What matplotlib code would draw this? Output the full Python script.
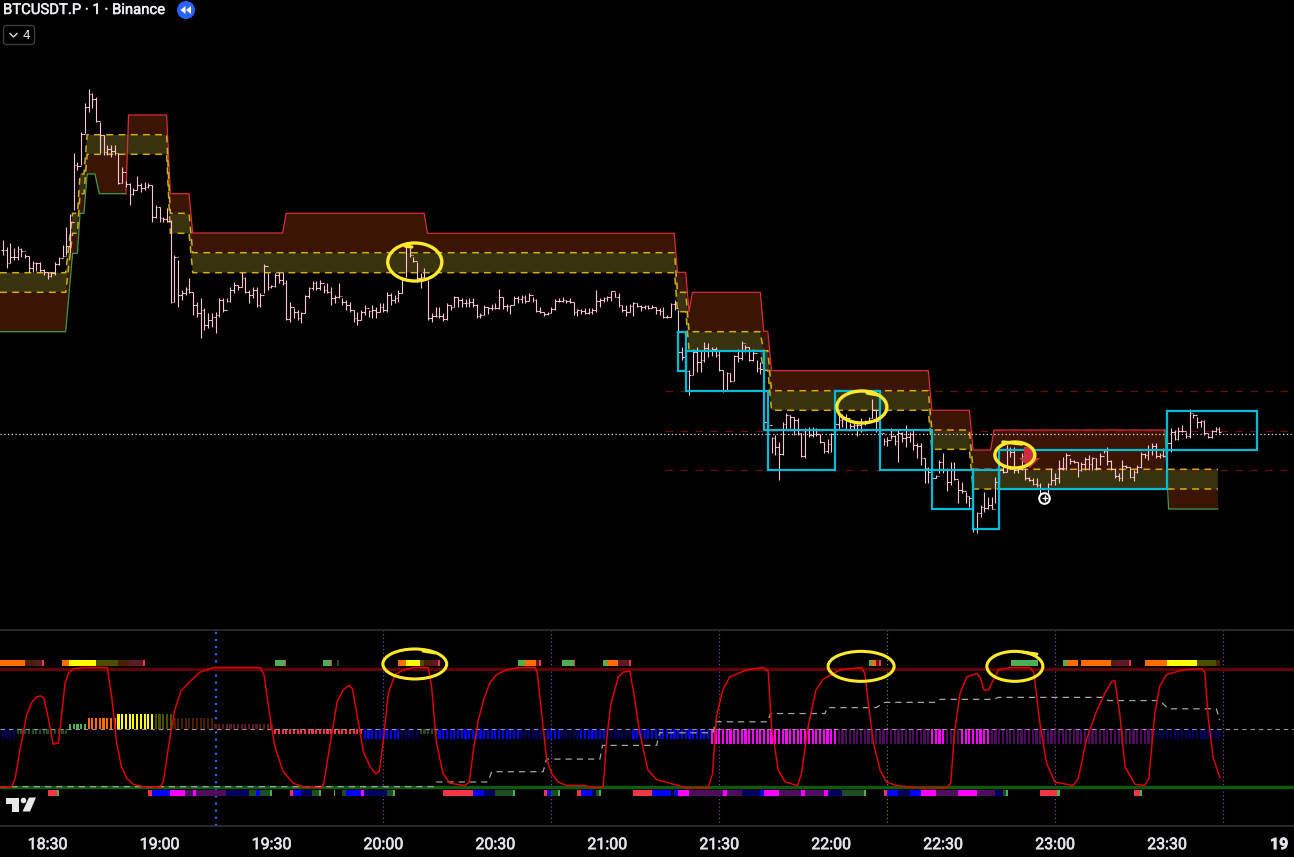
import numpy as np
import matplotlib
matplotlib.use("Agg")
import matplotlib.pyplot as plt
import matplotlib.patheffects as pe
from matplotlib.patches import Ellipse, Circle, FancyBboxPatch, Polygon

# ---- price bars: one per minute, from -12 minutes (relative to 18:30) ----
bar_high = [
 240,247,243,248,246,248,254,256,261,262, 262,269,272,272,262,257,245,227,214,153,
 162,132,103,89,93,97,122,135,145,145, 145,153,167,181,183,188,176,183,182,183,
 185,205,207,217,208,220,255,260,290,287, 278,292,302,298,308,313,313,312,298,298,
 298,287,282,285,272,277,290,287,287,293, 264,273,285,273,272,272,280,302,308,310,
 312,295,287,281,281,280,285,283,287,295, 283,298,300,302,310,312,310,305,310,305,
 307,303,303,292,293,295,290,277,245,248, 257,262,273,268,280,
 313,307,307,313,303,305,296,297,298,299, 298,298,304,313,305,307,304,303,289,297,
 304,305,296,296,295,295,293,297,299,307, 312,312,307,299,298,297,300,298,302,309,
 309,308,308,308,290,298,297,296,291,292, 293,305,305,304,302,303,305,305,305,305,
 307,308,307,315,303,300,310,
 347,358,370,349,347,350,342,343,347,347, 350,370,372,373,355,349,341,345,347,349,
 360,362,352,420,437,435,442,422,413,415, 417,418,433,428,427,427,428,434,442,439,
 433,415,414,414,414,423,423,423,418,420, 417,399,410,420,438,437,428,435,430,432,
 425,432,429,443,443,458,467,467,475,460, 453,468,462,462,480,482,492,496,
 500,512,505,492,497,497,477,465,465,445, 447,447,467,453,468,477,478,478,483,492,
 483,468,473,460,457,453,458,460,462,462, 457,455,457,458,453,449,447,460,468,473,
 460,465,467,470,465,452,453,445,443,443, 453,448,440,428,430,427,425,432,409,414,
 417,420,420,435,430,427,427]
bar_low = [
 255,268,263,260,260,257,258,272,272,271, 272,275,279,277,275,265,257,255,253,210,
 170,165,133,112,108,122,153,155,155,157, 155,184,183,187,205,195,190,192,190,188,
 222,218,222,222,222,303,302,307,300,295, 293,315,317,338,330,328,327,333,317,312,
 302,302,293,290,287,293,303,298,307,307, 293,290,288,287,283,285,320,322,318,320,
 323,313,298,290,290,290,293,293,305,303, 298,305,310,312,322,325,320,315,317,318,
 318,312,312,312,305,303,302,293,277,257, 262,282,288,280,320,
 322,317,318,321,320,310,307,307,307,307, 307,307,318,318,315,314,310,309,309,309,
 311,314,305,303,303,303,301,302,312,313, 316,315,313,310,302,302,303,303,315,316,
 314,314,314,314,312,307,302,301,301,297, 307,312,316,312,316,307,311,309,309,308,
 314,315,318,318,317,310,363,
 360,373,395,375,372,372,362,357,356,357, 371,392,390,382,381,362,360,352,361,361,
 372,374,428,446,453,455,480,455,430,428, 435,435,457,458,437,437,436,443,453,453,
 452,430,430,427,430,429,429,436,432,425, 422,418,432,455,445,446,439,445,462,442,
 447,442,450,458,465,483,483,491,478,473, 473,491,485,480,503,493,503,507,
 532,533,517,512,509,509,503,483,473,472, 457,473,473,470,480,481,485,487,495,497,
 497,485,485,483,470,470,464,463,477,471, 470,470,470,470,465,453,465,470,478,481,
 481,468,478,481,473,468,458,460,455,458, 458,457,457,452,440,440,432,438,438,418,
 428,427,435,438,438,432,433]
bar_close = [
 250,263,257,257,249,251,256,268,263,263, 270,272,276,273,264,258,256,246,222,165,
 166,134,107,94,99,121,135,152,149,151, 153,183,172,184,194,190,185,188,187,185,
 217,207,218,219,221,302,257,295,293,289, 292,305,313,310,325,320,317,315,300,310,
 301,290,285,287,278,292,295,290,305,295, 266,287,286,275,280,283,319,307,312,318,
 313,296,288,283,288,283,290,292,298,297, 296,302,305,310,318,320,312,308,311,310,
 312,307,310,295,300,298,293,278,247,255, 261,278,277,278,318,
 316,316,316,319,305,307,297,300,303,303, 302,305,316,315,307,308,308,308,297,306,
 306,305,298,299,297,301,295,300,311,312, 314,313,309,301,301,300,301,302,312,310,
 311,313,312,310,301,300,298,297,291,297, 305,310,312,306,303,306,307,306,308,307,
 310,311,317,317,304,308,352,
 357,371,375,352,362,360,348,350,349,355, 370,390,373,381,356,358,343,347,360,353,
 368,369,422,425,438,447,454,424,415,417, 420,433,456,430,435,429,434,442,451,444,
 434,424,420,417,418,426,425,425,423,421, 418,410,421,433,441,440,436,441,433,438,
 437,434,445,446,458,468,472,478,476,462, 470,482,470,479,490,491,496,498,
 529,513,507,508,505,509,482,470,472,450, 452,470,469,456,478,480,484,485,494,495,
 484,480,478,468,468,455,461,462,470,464, 459,464,458,468,456,451,461,469,476,478,
 466,467,477,472,467,454,455,450,446,456, 455,456,443,432,439,431,431,436,413,415,
 422,421,433,437,431,429,432]
first_bar_minute = -12

# ---- stepped bands on the price pane ----
band_m = [-12.75,4.85,6.7,8,8.7,9.75,10.6,21,21.7,31.9,32.9,37.9,38.9,168,168.8,171,171.9,190.9,191.9,193,194,236,236.96,247,248,299.4,300.4,313.6]
band_up = [272.7,272.7,213.3,213.3,174,174,134.7,134.7,134.7,134.7,213.3,213.3,252.7,252.7,292.3,292.3,331.7,331.7,350.7,350.7,390.7,390.7,430,430,469.3,469.3,469.3,469.3]
band_dn = [292.3,292.3,233.3,233.3,193.7,193.7,154.3,154.3,154.3,154.3,233.3,233.3,272.7,272.7,311.7,311.7,350.7,350.7,370.3,370.3,410.3,410.3,449.3,449.3,489,489,489,489]
green_m = [-12.75,4.85,6.7,8,8.7,9.75,10.6,12.7,13.85,21]
green_lv = [331.7,331.7,253.3,253.3,213.3,213.3,174,174,193.7,193.7]
red_m = [21,21.7,31.9,32.9,37.9,38.9,63,63.9,100.9,101.8,167.9,168.8,171,171.9,172.8,191,191.9,193,194,236,236.96,247,248,252.7,253.6,299.4]
red_lv = [193.7,115,115,193.7,193.7,233,233,213.3,213.3,233.3,233.3,272.3,272.3,311.7,292.3,292.3,331.3,331.3,370.7,370.7,410.3,410.3,450,450,430,430]
green2_m = [299.4,300.4,313.6]
green2_lv = [430,509,509]

# ---- cyan boxes ----
box_m0 = [168.9,171.1,191.9,193,211,223,237,248,255,300]
box_m1 = [171.1,191.9,193,211,223,237,248,255,300,324]
box_top = [331.7,350.7,390.7,430,390.7,430,470,470,450,410.7]
box_bot = [370.7,390.7,430,470,430,470,509,529,489,450]

# ---- horizontal levels ----
dash_levels = [391.3,430.5,470.3]
dash_start_m = 165.5
last_price = 434.3

# ---- oscillator ----
osc_m = [-12.75,-9.6,-8.7,-7.4,-5.6,-4.3,-3,-1.9,-1,0.2,1.5,2.9,3.8,4.7,5.6,6.9,9.6,16,17.2,18.5,19.8,21.2,23,25.6,30.1,31,32.8,34.1,35.7,38.1,40.8,44.4,56.9,58,59.6,60.9,63.1,65.8,68.5,73.4,74,75.6,77.6,79.2,80.8,81.7,83.2,84.6,86.4,88,88.9,90,91.3,93.1,95.3,98,102,102.9,104.2,
 106,107.8,109.6,111.8,113,114.1,115.4,116.8,118.5,120.3,123,126.6,130.6,131.2,132.4,133.7,135.1,136.8,139.1,143.5,147.1,148.9,149.8,150.9,152.9,154.2,156,157.1,158.7,160.9,163.2,166.7,171.2,177,178.2,179.2,180.9,182.8,187.3,191.7,193.1,194,195.8,197.6,201,202,203.8,205.9,207.8,212.3,218.1,
 219,219.9,221.3,223.1,224.8,227.5,232.9,240.9,242,243.1,244.5,246.3,249,250,250.9,252.1,254.8,257.9,263.2,264.3,265.9,267.7,269.9,274.8,276.2,278.4,281.1,283.3,285.1,286,287.3,288.7,291.4,294,295.1,296.7,298,299.8,304.3,309.2,310.1,311,312.3,314.1]
osc_v = [0,0,7,31,61,71,76,77,75,58,36,37,62,88,96,100,101,101,76,37,17,7,2,0,-0.5,4,42,65,81,89,97,101,101,95,59,34,13,3,0,-1,3,34,72,82,86,83,56,30,17,11,13,40,79,95,99,101,101,85,37,
 11,3,2,1,4,31,56,73,88,95,99,101,101,97,62,24,11,4,1,1,-1,0,40,69,93,97,98,79,45,14,6,3,-1,-1,11,59,82,93,99,101,98,51,14,4,1,11,51,82,91,99,101,
 96,71,37,14,4,1,-1,-1,3,48,79,93,96,92,82,82,99,101,101,97,54,20,4,1,7,40,64,79,89,90,62,17,2,1,7,62,85,95,99,100,97,59,25,8]

step_m = [-12.75,103.4,104.2,118,119,132.8,133.7,148,148.7,163.2,164,178.3,179,193,193.7,208.3,208.9,222,224.4,237.8,239,253.4,254.8,282.9,284.2,298,300.3,313.2,314.1]
step_v = [0,0,4,4,12.7,12.7,23.4,23.4,35,35,45.7,45.7,55,55,62,62,67,67,71.5,71.5,74,74,75.7,75.7,73,73,66,66,56.5]

mid_level = 49
osc_hi = 100
osc_lo = 0

# ---- histogram runs (inclusive minutes) ----
orange, yellow, olive, dorange, dred, red = '#ff6d00', '#ffff00', '#4d4d00', '#4a1f00', '#5c1a24', '#f23645'
green, dgreen, blue, navy, magenta, dmag = '#4caf50', '#1e4d24', '#0000ff', '#00005e', '#ff00ff', '#4d0d5c'
hist_a = [-12,-8,6,11,19,29,34,45,61,85,95,100,105,127,134,138,143,150,157,178,212,237,241,245,253,297]
hist_b = [-9,5,10,18,28,33,44,60,84,94,99,104,126,133,137,142,149,156,177,211,236,240,244,252,296,314]
hist_v = [-8.5,-4.5,4.5,9,13,13,9,4.5,-4.5,-8.5,-8.5,-4.5,-8.5,-8.5,-8.5,-8.5,-8.5,-8.5,-8.5,-13,-13,-13,-13,-13,-13,-8.5]
hist_c = [navy,dgreen,green,orange,yellow,olive,dorange,dred,red,blue,navy,dgreen,blue,navy,blue,navy,blue,navy,blue,magenta,dmag,magenta,dmag,magenta,dmag,navy]

# ---- strips above and below the oscillator ----
top_a = [-12.75,-6,-3.2,-1.5,3.9,5.7,13,18.9,21.9,25.6,60.9,63.6,73.8,75.9,77.5,93.9,96,99.7,100.8,103,104.5,126,128,130.9,131.7,137.8,141,148.8,149.9,152.8,155.8,220.1,220.9,222,222.8,258.1,272.1,273.1,276.9,284.9,286,289.8,294,299.9,308,313]
top_b = [-6,-3.2,-1.5,-1,5.7,13,18.9,21.9,25.6,26.1,63.6,64,75.9,76.2,78,96,99.7,100.8,103,104.5,105.1,128,130.9,131.7,132.2,141,141.3,149.9,152.8,155.8,156.3,220.9,222,222.8,223.3,265.3,273.1,276.1,284.9,286,289.8,290.3,299.9,308,313,314.1]
top_c = [orange,dorange,dred,red,orange,yellow,olive,dorange,dred,red,green,red,green,red,dgreen,orange,yellow,olive,dorange,dred,red,green,orange,dred,red,green,red,green,orange,dred,red,green,orange,dred,red,green,green,orange,orange,dorange,dred,red,orange,yellow,olive,dorange]

bot_a = [0,2.5,26.9,28,32.8,36.8,39,39.75,47.8,54,55.8,56.9,59.6,64.9,65.7,67.9,70.8,72.7,76.7,78.9,80,84,84.75,91,92.5,106,114,116.9,119.9,124.7,133,133.8,134.9,136.8,141.8,142.9,145.9,147,147.7,156.8,161.9,167.8,168.9,171.8,181,182,186,190.9,192,196,201.8,202.9,208,209,212.8,218.7,224.1,225,227.9,231.1,234,238,244,249,254,256,256.8,265.9,270.5,291.1,292.7]
bot_b = [2.5,3,28,32.8,36.8,39,39.75,47.8,54,55.8,56.9,59.6,60.1,65.7,67.9,70.8,72.7,73.2,77,80,84,84.75,91,92.5,93,114,116.9,119.9,124.7,125.2,133.8,134.9,136.8,137.3,142.9,145.9,147,147.7,148.3,161.9,167,168.9,171.8,181,182,186,190.9,192,196,201.8,202.9,208,209,212.8,218.7,219.2,225,227.9,231.1,234,238,244,249,254,256,256.8,257.4,270.5,271.3,292.7,293.2]
bot_c = [red,green,red,blue,magenta,dmag,magenta,dmag,navy,dgreen,blue,dgreen,green,red,blue,navy,dgreen,green,green,dgreen,blue,magenta,navy,dgreen,green,red,blue,navy,dgreen,green,red,blue,dgreen,green,red,blue,navy,dgreen,green,red,blue,blue,magenta,dmag,magenta,dmag,navy,blue,magenta,dmag,magenta,dmag,magenta,navy,dgreen,green,red,blue,navy,blue,magenta,dmag,magenta,dmag,navy,dgreen,green,red,green,red,green]

session_lines = [90,135,180,270,315]
session_green = [225]
session_blue = [45]

tick_minutes = [0,30,60,90,120,150,180,210,240,270,300,330]
tick_labels = ['18:30','19:00','19:30','20:00','20:30','21:00','21:30','22:00','22:30','23:00','23:30','19']

# ---- hand-drawn marks ----
main_ell_m = [98.4,218.2,259.2]
main_ell_lv = [262,407,455]
main_ell_w = [14.5,13.4,10.7]
main_ell_h = [38,32,26]
main_tail_m = [(95.8,97.6),(219.6,222.5),(256,261.1)]
main_tail_lv = [(246,247),(393,395),(442,444)]
low_ell_m = [98.4,218,259.2]
low_ell_v = [104,102,102]
low_ell_w = [17.1,17.7,15]
low_ell_h = [25.4,25.4,25.4]
low_tail_m = [(100.6,103.8),(261.4,265.1)]
low_tail_v = [(115,113.4),(114,112.4)]

assert len(bar_high) == len(bar_low) == len(bar_close) == 327, (len(bar_high), len(bar_low), len(bar_close))

W, H = 1294, 857
plt.rcParams['font.family'] = ['Roboto', 'DejaVu Sans']
fig = plt.figure(figsize=(W/100, H/100), dpi=100, facecolor='black')
XL = (-12.75, 334)
ax = fig.add_axes([0, 1-630/H, 1, 630/H], facecolor='black')
low = fig.add_axes([0, 1-826/H, 1, 196/H], facecolor='black')
ax.set_xlim(*XL); ax.set_ylim(630, 0)
low.set_xlim(*XL); low.set_ylim(-33.3, 132.8)
ax.set_xticks([]); ax.set_yticks([])
for s in ax.spines.values():
    s.set_visible(False)
for k, s in low.spines.items():
    s.set_visible(k in ('top', 'bottom'))
    s.set_color('#2f2f2f'); s.set_linewidth(1.2)
low.set_yticks([])
low.set_xticks(tick_minutes)
low.set_xticklabels(tick_labels, fontsize=11.5, color='#e4e6ec')
for t in low.get_xticklabels():
    t.set_path_effects([pe.withStroke(linewidth=0.45, foreground='#e4e6ec')])
low.get_xticklabels()[-1].set_fontweight('bold')
low.tick_params(axis='x', length=0, pad=8)

# bands
bm, bu, bd = map(np.array, (band_m, band_up, band_dn))
FILL_R, FILL_O = '#3a1503', '#38320f'
def poly(a, x1, y1, x2, y2, c):
    a.fill(np.r_[x1, np.array(x2)[::-1]], np.r_[y1, np.array(y2)[::-1]], color=c, lw=0, zorder=1)
s1 = bm <= 21
poly(ax, bm[s1], bd[s1], green_m, green_lv, FILL_R)
s2 = (bm >= 21) & (bm <= 299.4)
poly(ax, red_m, red_lv, bm[s2], bu[s2], FILL_R)
s3 = bm >= 300.4
poly(ax, bm[s3], bd[s3], green2_m[1:], green2_lv[1:], FILL_R)
poly(ax, bm, bu, bm, bd, FILL_O)
ax.plot(green_m, green_lv, color='#3f9a4c', lw=0.9, zorder=2)
ax.plot(green2_m, green2_lv, color='#3f9a4c', lw=0.9, zorder=2)
ax.plot(red_m, red_lv, color='#d92b3c', lw=0.9, zorder=2)
dash = (0, (4.5, 3.5))
ax.plot(bm, bu, color='#d2ac14', lw=1.1, ls=dash, zorder=2)
ax.plot(bm, bd, color='#d2ac14', lw=1.1, ls=dash, zorder=2)

# levels
for lv in dash_levels:
    ax.hlines(lv, dash_start_m, XL[1], color='#6e0b0b', lw=0.9, ls=(0, (6, 6)), zorder=1.5)
ax.axhline(last_price, color='#ffd6dc', lw=0.9, ls=(0, (1, 2)), zorder=3)

# price bars
x = first_bar_minute + np.arange(len(bar_close))
close = np.array(bar_close, float)
opn = np.r_[close[0], close[:-1]]
PINK = '#ffc4d2'
ax.vlines(x, bar_high, bar_low, color=PINK, lw=0.8, zorder=4)
ax.hlines(opn, x-0.45, x, color=PINK, lw=0.8, zorder=4)
ax.hlines(close, x, x+0.45, color=PINK, lw=0.8, zorder=4)

# boxes
for a, b, t, d in zip(box_m0, box_m1, box_top, box_bot):
    ax.plot([a, b, b, a, a], [t, t, d, d, t], color='#00bcd9', lw=1.6, zorder=5, solid_joinstyle='miter')

# red arrow, clock
ax.add_patch(Polygon(list(zip([261.6,264.3,264.3,265.9,263.2,260.3,261.6],[447,447,458,458,468,458,458])), closed=True, fc='#cc2f40', ec='none', zorder=6))
ax.scatter([267.1], [498], s=58, fc='black', ec='white', lw=1.5, zorder=6)
ax.scatter([267.3], [497.5], s=14, marker='+', color='white', lw=1, zorder=7)

# yellow ellipses
YEL = '#ffe92b'
for m, lv, w, h in zip(main_ell_m, main_ell_lv, main_ell_w, main_ell_h):
    ax.add_patch(Ellipse((m, lv), w, h, fc='none', ec=YEL, lw=2.4, zorder=8))
for tm, tl in zip(main_tail_m, main_tail_lv):
    ax.plot(tm, tl, color=YEL, lw=2.4, zorder=8, solid_capstyle='round')
for m, v, w, h in zip(low_ell_m, low_ell_v, low_ell_w, low_ell_h):
    low.add_patch(Ellipse((m, v), w, h, fc='none', ec=YEL, lw=2.2, zorder=8))
for tm, tv in zip(low_tail_m, low_tail_v):
    low.plot(tm, tv, color=YEL, lw=2.2, zorder=8, solid_capstyle='round')

# lower pane
for m in session_blue:
    low.axvline(m, color='#2962ff', lw=1.6, ls=(0, (1, 2.2)), zorder=1)
for m in session_lines:
    low.axvline(m, color='#7b3fa8', lw=0.9, ls=(0, (1, 2)), zorder=1)
for m in session_green:
    low.axvline(m, color='#4c8a5a', lw=0.9, ls=(0, (1, 2)), zorder=1)

for a, b, v, c in zip(hist_a, hist_b, hist_v, hist_c):
    mins = np.arange(a, b+1)
    low.bar(mins, v, bottom=mid_level, width=0.58, color=c, lw=0, zorder=2, antialiased=False)
low.hlines(mid_level, XL[0], XL[1], color='#a58ca5', lw=0.8, ls=(0, (4, 3.5)), zorder=3)

low.axhline(osc_hi, color='#5c0606', lw=2.4, zorder=2)
low.axhline(osc_lo, color='#0e5a0e', lw=2.4, zorder=2)

for a, b, c in zip(top_a, top_b, top_c):
    low.bar(a, 4.7, bottom=102.3, width=b-a, align='edge', color=c, lw=0, zorder=3)
for a, b, c in zip(bot_a, bot_b, bot_c):
    low.bar(a, -4.8, bottom=-2.8, width=b-a, align='edge', color=c, lw=0, zorder=3)

low.plot(step_m, step_v, color='#a6a6a6', lw=0.9, ls=(0, (5, 4)), zorder=4)
low.plot(osc_m, osc_v, color='#e80000', lw=1.05, zorder=5)

# overlay: legend text, icons, logo
ov = fig.add_axes([0, 0, 1, 1], facecolor='none')
ov.set_xlim(0, W); ov.set_ylim(H, 0); ov.axis('off')
tt = ov.text(3, 10, 'BTCUSDT.P \u00b7 1 \u00b7 Binance', color='#eceef2', fontsize=10.7, va='center', ha='left')
tt.set_path_effects([pe.withStroke(linewidth=0.35, foreground='#eceef2')])
ov.add_patch(Circle((186, 10), 9, fc='#2962ff', ec='none'))
ov.add_patch(Polygon([(185.5, 6), (185.5, 14), (180.5, 10)], fc='white', ec='none'))
ov.add_patch(Polygon([(191, 6), (191, 14), (186, 10)], fc='white', ec='none'))
ov.add_patch(FancyBboxPatch((3.5, 25.5), 31, 19, boxstyle='round,pad=0,rounding_size=3', fc='black', ec='#3c3c3c', lw=1))
ov.plot([10, 13.5, 17], [33.5, 37, 33.5], color='#d8dbe2', lw=1)
ov.text(23, 35.5, '4', color='#d8dbe2', fontsize=9.5, va='center', ha='left')
LOGO = '#e8e8e8'
ov.add_patch(Polygon([(6, 797.5), (18.5, 797.5), (18.5, 811.5), (12, 811.5), (12, 803.5), (6, 803.5)], fc=LOGO, ec='none'))
ov.add_patch(Circle((23.5, 800.5), 2.8, fc=LOGO, ec='none'))
ov.add_patch(Polygon([(29, 797.5), (36, 797.5), (30, 811.5), (22.5, 811.5)], fc=LOGO, ec='none'))

fig.savefig('out.png', dpi=100, facecolor='black')
